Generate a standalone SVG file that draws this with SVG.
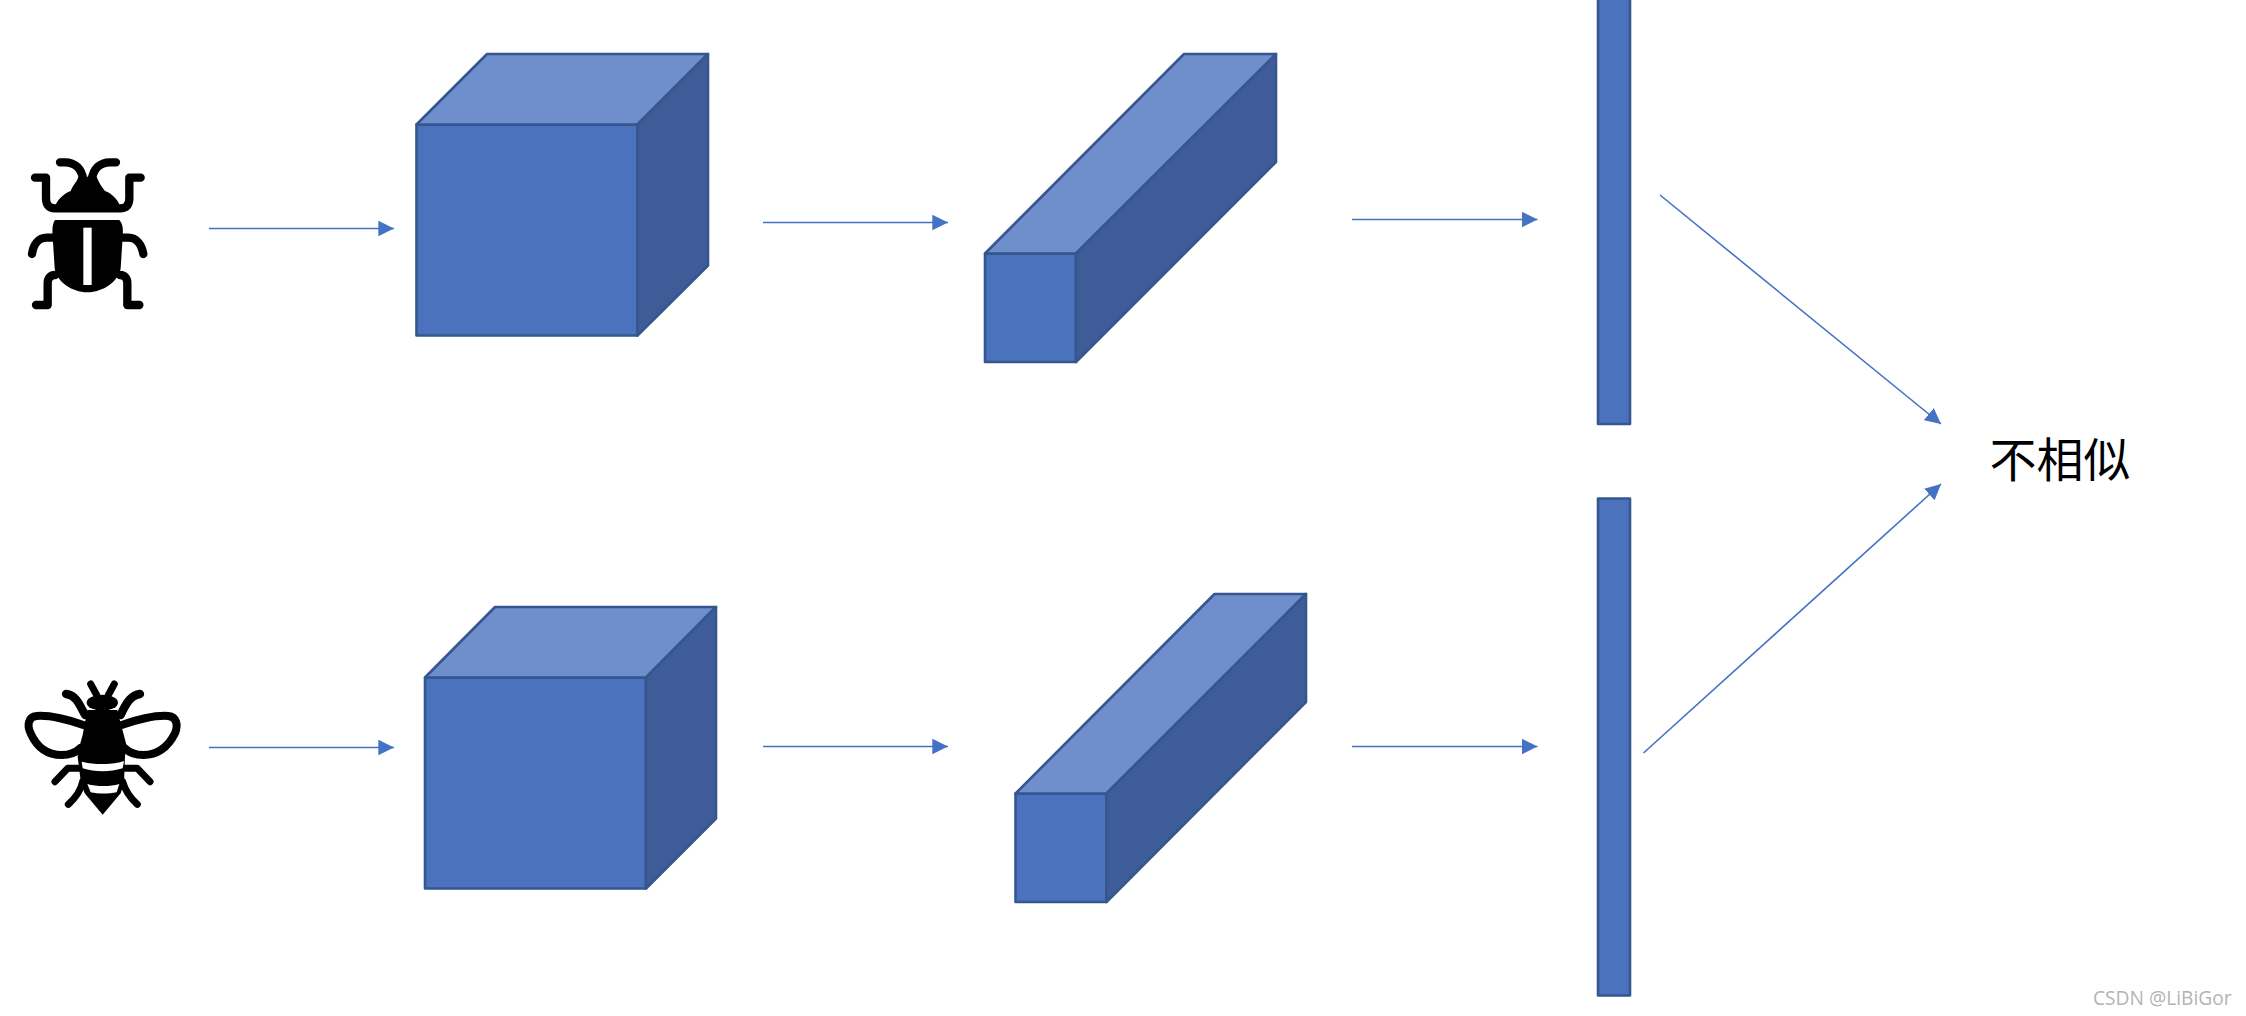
<svg xmlns="http://www.w3.org/2000/svg" width="2246" height="1016" viewBox="0 0 2246 1016">
<style>
.f{fill:#4b72bd}.t{fill:#6f8ecc}.s{fill:#3e5c97}
.b polygon,.b rect{stroke:#35568f;stroke-width:2.6;stroke-linejoin:round}
.c line{stroke:#4472c4;stroke-width:1.6;marker-end:url(#a)}
.i path,.i ellipse{stroke:#000;fill:none;stroke-linecap:round;stroke-linejoin:round}
.i .k{fill:#000;stroke:none}.i .w{fill:#fff;stroke:none}
</style>
<defs>
<marker id="a" markerUnits="userSpaceOnUse" markerWidth="16" markerHeight="16" refX="15.7" refY="8" orient="auto"><path d="M0 0.2L15.7 8L0 15.8Z" fill="#4472c4"/></marker>
</defs>
<rect width="2246" height="1016" fill="#fff"/>
<g id="bug" class="i" transform="translate(0 130) scale(.33333)">
<path stroke-width="25" d="M105 143H138V205Q138 235 165 235H360Q388 235 388 205V143H422"/>
<path stroke-width="25" d="M180 97H195C225 97 245 115 250 150"/>
<path stroke-width="25" d="M348 97H330C300 97 280 115 275 150"/>
<path class="k" d="M160 242C168 210 193 190 212 183C218 165 232 155 235 140H290C295 155 305 170 315 183C335 190 358 210 365 242Z"/>
<path stroke-width="25" d="M158 323H140C115 323 100 345 96 372"/>
<path stroke-width="25" d="M368 323H385C410 323 425 345 430 372"/>
<path stroke-width="25" d="M165 435C150 435 143 445 143 460V525H108"/>
<path stroke-width="25" d="M360 435C375 435 382 445 382 460V525H418"/>
<path class="k" d="M165 270H358C368 280 370 295 368 320L362 415C355 455 310 487 262 487C215 487 170 455 164 415L158 320C156 295 158 280 165 270Z"/>
<rect class="w" x="250" y="293" width="25" height="172"/>
</g>
<g id="bee" class="i" transform="translate(0 660) scale(.33333)">
<path stroke-width="21" d="M272 72L290 105M343 72L325 105"/>
<path stroke-width="25" d="M198 102C225 105 235 125 255 165M420 102C395 105 380 125 362 165"/>
<path stroke-width="24" d="M250 195C210 180 150 165 110 168C85 170 80 195 92 220C110 260 140 285 185 285C210 285 230 275 240 265"/>
<path stroke-width="24" d="M365 195C405 180 465 165 505 168C530 170 535 195 525 220C505 260 475 285 430 285C405 285 385 275 375 265"/>
<path stroke-width="21" d="M240 325H203L165 365M375 325H412L450 365"/>
<path stroke-width="21" d="M248 365C242 395 225 415 205 433M368 365C376 395 392 415 412 433"/>
<ellipse class="k" cx="307" cy="128" rx="47" ry="24"/>
<path class="k" d="M262 150H352L362 190L378 250V262L375 290L372 370L362 400L308 464L254 400L243 370L233 290L238 260L248 225Z"/>
<path class="w" d="M245 305C280 315 340 315 372 303L368 325C330 337 285 337 248 325Z"/>
<path class="w" d="M262 372C290 380 330 380 358 372L350 397C325 402 295 402 272 397Z"/>
</g>
<g id="cube1" class="b">
<rect class="f" x="416.5" y="124.500" width="221" height="211"/>
<polygon class="t" points="416.5,124.500 487,54 708,54 637.5,124.500"/>
<polygon class="s" points="637.5,124.500 708,54 708,265.500 637.5,335.500"/>
</g>
<g id="cube2" class="b">
<rect class="f" x="425" y="677.500" width="221" height="211"/>
<polygon class="t" points="425,677.500 495,607 716,607 646,677.500"/>
<polygon class="s" points="646,677.500 716,607 716,818.500 646,888.500"/>
</g>
<g id="beam1" class="b">
<rect class="f" x="985" y="253.500" width="91" height="108.500"/>
<polygon class="t" points="985,253.500 1184,54 1276,54 1076,253.500"/>
<polygon class="s" points="1076,253.500 1276,54 1276,162 1076,362"/>
</g>
<g id="beam2" class="b">
<rect class="f" x="1015.500" y="793.500" width="91" height="108.500"/>
<polygon class="t" points="1015.500,793.500 1214.500,594 1306,594 1106.500,793.500"/>
<polygon class="s" points="1106.500,793.500 1306,594 1306,702 1106.500,902"/>
</g>
<g id="bar1" class="b"><rect class="f" x="1598" y="-4" width="32" height="428"/></g>
<g id="bar2" class="b"><rect class="f" x="1598" y="498.500" width="32" height="497"/></g>
<g id="connectors" class="c">
<line x1="209" y1="228.500" x2="394" y2="228.500"/>
<line x1="763" y1="222.500" x2="948" y2="222.500"/>
<line x1="1352" y1="219.500" x2="1537.500" y2="219.500"/>
<line x1="209" y1="747.500" x2="394" y2="747.500"/>
<line x1="763" y1="746.500" x2="948" y2="746.500"/>
<line x1="1352" y1="746.500" x2="1537.500" y2="746.500"/>
<line x1="1660" y1="195" x2="1941" y2="424"/>
<line x1="1643.500" y1="753" x2="1941" y2="484"/>
</g>
<g id="result"><text x="1989.500" y="477" font-family="'Noto Sans CJK SC',sans-serif" font-size="47" fill="#000">不相似</text></g>
<text x="2093" y="1005" font-family="'Open Sans',sans-serif" font-size="19.200" fill="#b4b4b4">CSDN @LiBiGor</text>
</svg>
